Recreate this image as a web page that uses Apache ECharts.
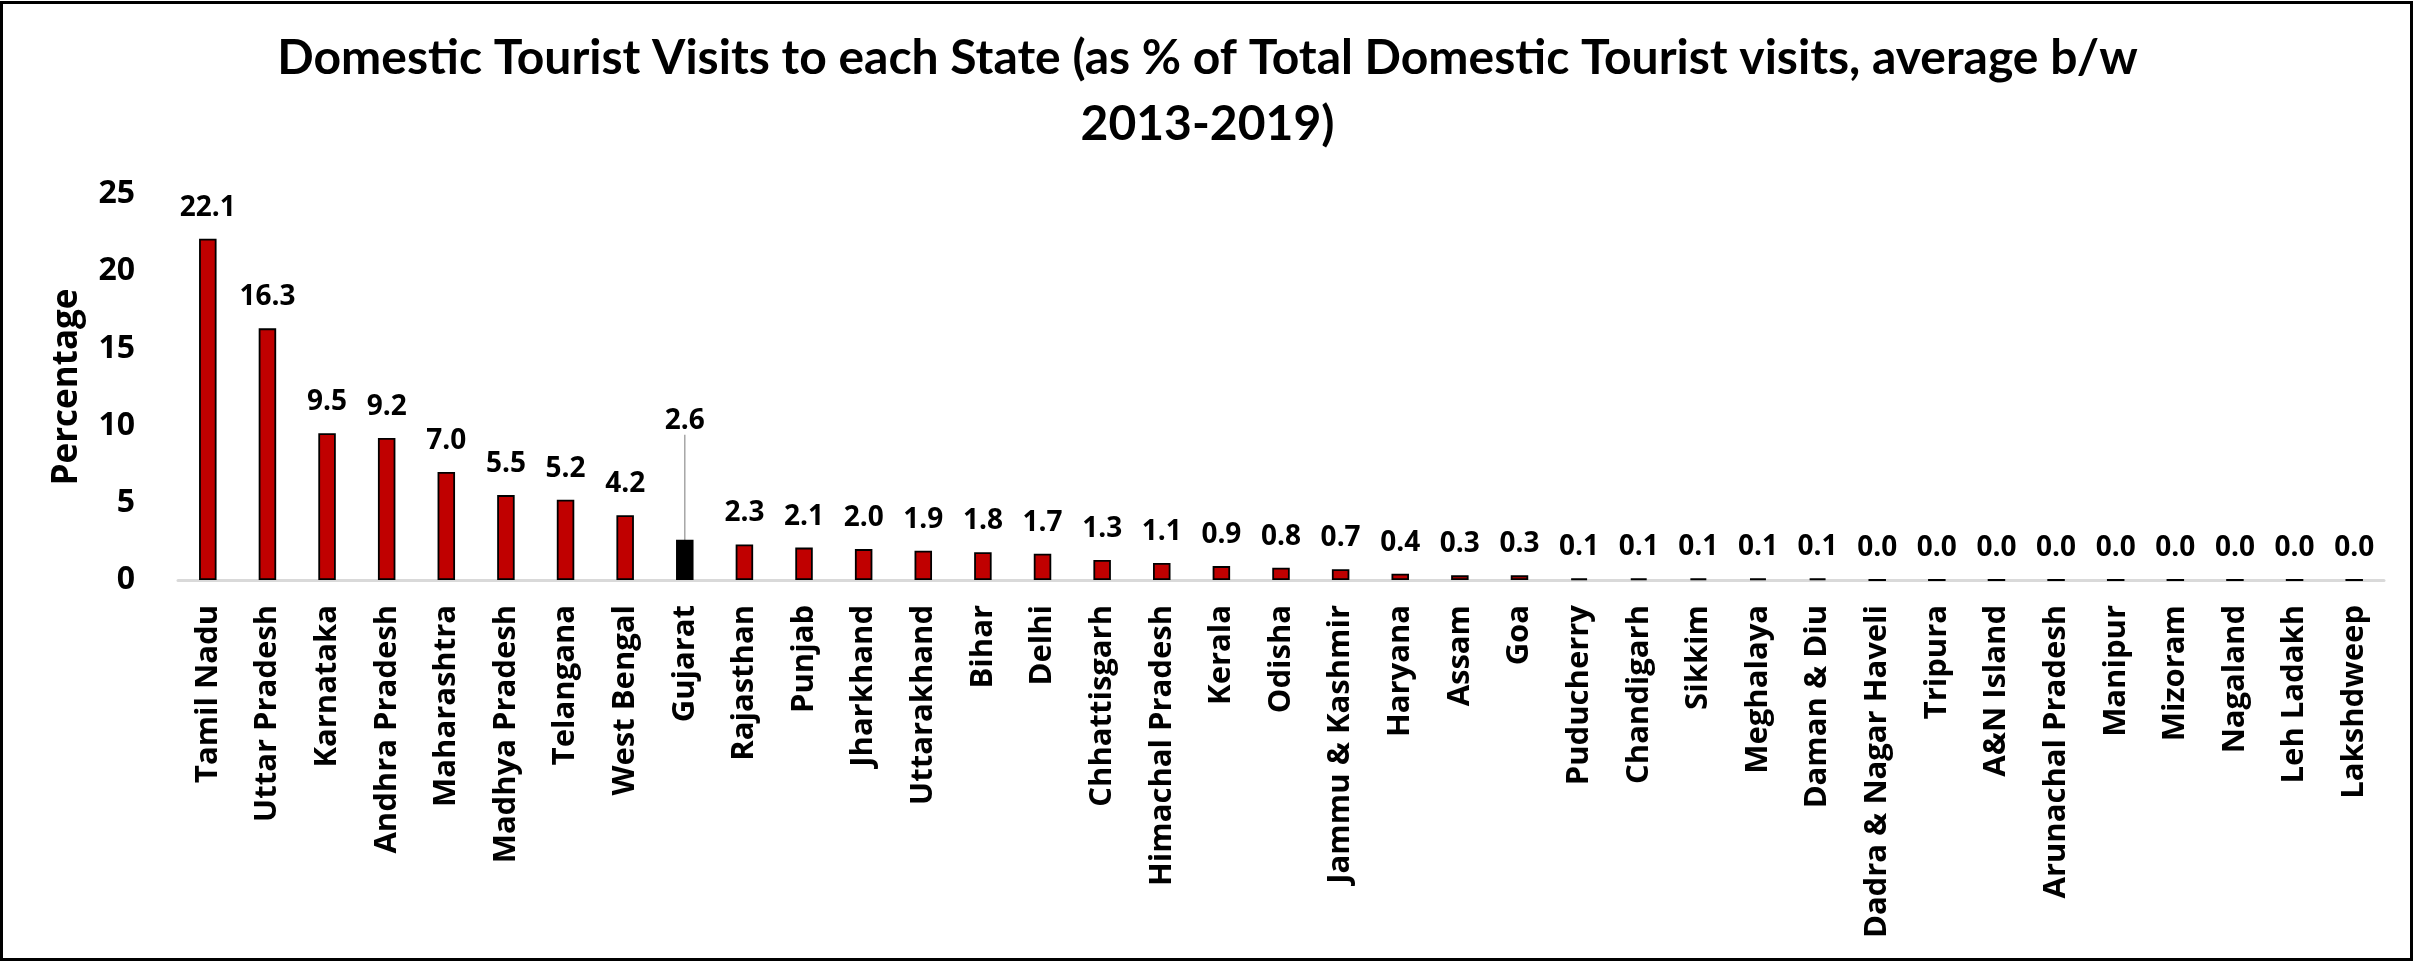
<!DOCTYPE html>
<html>
<head>
<meta charset="utf-8">
<script src="https://cdn.jsdelivr.net/npm/echarts@6/dist/echarts.min.js"></script>
<style>
html,body{margin:0;padding:0;background:#fff;}
#c{width:2415px;height:962px;}
</style>
</head>
<body>
<div id="c"></div>
<script>
const titleText = 'Domestic Tourist Visits to each State (as % of Total Domestic Tourist visits, average b/w\n2013-2019)';
const yAxisName = 'Percentage';
const states = ['Tamil Nadu','Uttar Pradesh','Karnataka','Andhra Pradesh','Maharashtra','Madhya Pradesh','Telangana','West Bengal','Gujarat','Rajasthan','Punjab','Jharkhand','Uttarakhand','Bihar','Delhi','Chhattisgarh','Himachal Pradesh','Kerala','Odisha','Jammu & Kashmir','Haryana','Assam','Goa','Puducherry','Chandigarh','Sikkim','Meghalaya','Daman & Diu','Dadra & Nagar Haveli','Tripura','A&N Island','Arunachal Pradesh','Manipur','Mizoram','Nagaland','Leh Ladakh','Lakshdweep'];
const shares = [22.1,16.3,9.5,9.2,7.0,5.5,5.2,4.2,2.6,2.3,2.1,2.0,1.9,1.8,1.7,1.3,1.1,0.9,0.8,0.7,0.4,0.3,0.3,0.1,0.1,0.1,0.1,0.1,0.0,0.0,0.0,0.0,0.0,0.0,0.0,0.0,0.0];
const highlightState = 'Gujarat';
const yTicks = [0,5,10,15,20,25];

const FONT = 'Open Sans';
const TITLE_FONT = 'Lato';
const chart = echarts.init(document.getElementById('c'));

const data = shares.map((v, i) => {
  if (states[i] === highlightState) {
    return {value: v, itemStyle: {color: '#000000'}, labelLine: {show: true, lineStyle: {color: '#a6a6a6', width: 1.5}}};
  }
  return v;
});

chart.setOption({
  animation: false,
  backgroundColor: '#ffffff',
  title: {
    text: titleText,
    left: 'center',
    top: 21,
    textStyle: {fontFamily: TITLE_FONT, fontWeight: 'bold', fontSize: 48, lineHeight: 66, color: '#000'}
  },
  grid: {left: 178, right: 31, top: 194, bottom: 382},
  xAxis: {
    type: 'category',
    data: states,
    axisLine: {show: true, lineStyle: {color: '#d9d9d9', width: 3}},
    axisTick: {show: false},
    axisLabel: {interval: 0, rotate: 90, margin: 25, color: '#000', fontFamily: FONT, fontWeight: 'bold', fontSize: 31}
  },
  yAxis: {
    type: 'value',
    min: yTicks[0],
    max: yTicks[yTicks.length - 1],
    interval: yTicks[1] - yTicks[0],
    name: yAxisName,
    nameLocation: 'middle',
    nameRotate: 90,
    nameGap: 93,
    nameTextStyle: {color: '#000', fontFamily: FONT, fontWeight: 'bold', fontSize: 35},
    axisLine: {show: false},
    axisTick: {show: false},
    splitLine: {show: false},
    axisLabel: {margin: 43, color: '#000', fontFamily: FONT, fontWeight: 'bold', fontSize: 32}
  },
  series: [{
    type: 'bar',
    data: data,
    barWidth: 17.5,
    itemStyle: {color: '#c00000', borderColor: '#000', borderWidth: 1.8},
    label: {
      show: true,
      position: 'top',
      distance: 17,
      color: '#000',
      fontFamily: FONT,
      fontWeight: 'bold',
      fontSize: 28,
      formatter: p => Number(p.value).toFixed(1)
    },
    labelLayout: function (params) {
      if (states[params.dataIndex] === highlightState) {
        return {dy: -88};
      }
      return {};
    }
  }],
  graphic: [{
    type: 'rect',
    shape: {x: 1.5, y: 2.5, width: 2410, height: 957},
    style: {fill: 'none', stroke: '#000', lineWidth: 3},
    silent: true
  }]
});
</script>
</body>
</html>
